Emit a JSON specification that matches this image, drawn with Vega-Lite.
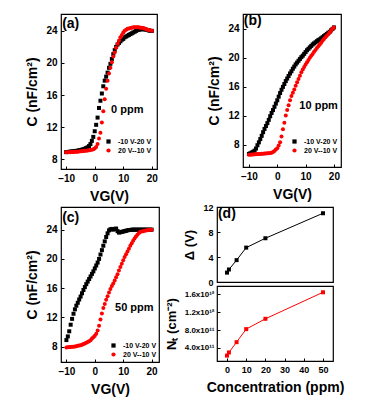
{
"$schema": "https://vega.github.io/schema/vega-lite/v6.json",
"background": "white",
"padding": {"left": 25, "top": 12, "right": 0, "bottom": 0},
"config": {
  "font": "Liberation Sans",
  "view": {"stroke": "black", "strokeWidth": 1.2},
  "axis": {"grid": false, "domain": false, "tickColor": "black", "tickSize": -3, "tickWidth": 1, "labelOverlap": false, "labelFlush": false, "tickCount": 20, "format": "d",
    "labelFont": "Liberation Sans", "labelFontWeight": "bold", "labelFontSize": 10, "labelColor": "black", "labelPadding": 7,
    "titleFont": "Liberation Sans", "titleFontWeight": "bold", "titleFontSize": 14, "titleColor": "black", "titlePadding": 6},
  "axisX": {"titlePadding": 6},
  "legend": {"labelFont": "Liberation Sans", "labelFontWeight": "bold", "labelFontSize": 7, "labelColor": "black", "symbolSize": 18, "rowPadding": 1, "padding": 0, "labelOffset": 6, "symbolStrokeWidth": 0}
},
"datasets": {
"a": [
{"V":-10,"C":8.9,"s":"f"},{"V":-9.5,"C":8.92,"s":"f"},{"V":-9,"C":8.94,"s":"f"},{"V":-8.5,"C":8.96,"s":"f"},{"V":-8,"C":8.98,"s":"f"},{"V":-7.5,"C":9.0,"s":"f"},{"V":-7,"C":9.02,"s":"f"},{"V":-6.5,"C":9.05,"s":"f"},{"V":-6,"C":9.08,"s":"f"},{"V":-5.5,"C":9.12,"s":"f"},
{"V":-5,"C":9.16,"s":"f"},{"V":-4.5,"C":9.2,"s":"f"},{"V":-4,"C":9.26,"s":"f"},{"V":-3.5,"C":9.32,"s":"f"},{"V":-3,"C":9.4,"s":"f"},{"V":-2.5,"C":9.5,"s":"f"},{"V":-2,"C":9.65,"s":"f"},{"V":-1.5,"C":9.9,"s":"f"},{"V":-1,"C":10.3,"s":"f"},{"V":-0.5,"C":10.8,"s":"f"},
{"V":0,"C":11.5,"s":"f"},{"V":0.5,"C":12.3,"s":"f"},{"V":1,"C":13.2,"s":"f"},{"V":1.5,"C":14.4,"s":"f"},{"V":2,"C":15.3,"s":"f"},{"V":2.5,"C":16.2,"s":"f"},{"V":3,"C":17.1,"s":"f"},{"V":3.5,"C":17.8,"s":"f"},{"V":4,"C":18.3,"s":"f"},{"V":4.5,"C":18.8,"s":"f"},
{"V":5,"C":19.4,"s":"f"},{"V":5.5,"C":19.9,"s":"f"},{"V":6,"C":20.5,"s":"f"},{"V":6.5,"C":21.1,"s":"f"},{"V":7,"C":21.6,"s":"f"},{"V":7.5,"C":22.0,"s":"f"},{"V":8,"C":22.3,"s":"f"},{"V":8.5,"C":22.5,"s":"f"},{"V":9,"C":22.7,"s":"f"},{"V":9.5,"C":22.9,"s":"f"},
{"V":10,"C":23.0,"s":"f"},{"V":10.5,"C":23.2,"s":"f"},{"V":11,"C":23.3,"s":"f"},{"V":11.5,"C":23.4,"s":"f"},{"V":12,"C":23.5,"s":"f"},{"V":12.5,"C":23.6,"s":"f"},{"V":13,"C":23.7,"s":"f"},{"V":13.5,"C":23.8,"s":"f"},{"V":14,"C":23.9,"s":"f"},{"V":14.5,"C":24.0,"s":"f"},
{"V":15,"C":24.1,"s":"f"},{"V":15.5,"C":24.15,"s":"f"},{"V":16,"C":24.2,"s":"f"},{"V":16.5,"C":24.2,"s":"f"},{"V":17,"C":24.2,"s":"f"},{"V":17.5,"C":24.2,"s":"f"},{"V":18,"C":24.15,"s":"f"},{"V":18.5,"C":24.1,"s":"f"},{"V":19,"C":24.05,"s":"f"},{"V":19.5,"C":24.0,"s":"f"},{"V":20,"C":24.0,"s":"f"},
{"V":-10,"C":8.9,"s":"r"},{"V":-9.5,"C":8.9,"s":"r"},{"V":-9,"C":8.9,"s":"r"},{"V":-8.5,"C":8.9,"s":"r"},{"V":-8,"C":8.92,"s":"r"},{"V":-7.5,"C":8.93,"s":"r"},{"V":-7,"C":8.94,"s":"r"},{"V":-6.5,"C":8.95,"s":"r"},{"V":-6,"C":8.96,"s":"r"},{"V":-5.5,"C":8.98,"s":"r"},
{"V":-5,"C":9.0,"s":"r"},{"V":-4.5,"C":9.02,"s":"r"},{"V":-4,"C":9.04,"s":"r"},{"V":-3.5,"C":9.06,"s":"r"},{"V":-3,"C":9.08,"s":"r"},{"V":-2.5,"C":9.1,"s":"r"},{"V":-2,"C":9.12,"s":"r"},{"V":-1.5,"C":9.16,"s":"r"},{"V":-1,"C":9.2,"s":"r"},{"V":-0.5,"C":9.26,"s":"r"},
{"V":0,"C":9.35,"s":"r"},{"V":0.5,"C":9.55,"s":"r"},{"V":1,"C":9.9,"s":"r"},{"V":1.5,"C":10.6,"s":"r"},{"V":2,"C":11.3,"s":"r"},{"V":2.5,"C":12.6,"s":"r"},{"V":3,"C":14.0,"s":"r"},{"V":3.5,"C":15.5,"s":"r"},{"V":4,"C":16.8,"s":"r"},{"V":4.5,"C":17.8,"s":"r"},
{"V":5,"C":18.7,"s":"r"},{"V":5.5,"C":19.4,"s":"r"},{"V":6,"C":20.1,"s":"r"},{"V":6.5,"C":20.8,"s":"r"},{"V":7,"C":21.3,"s":"r"},{"V":7.5,"C":21.9,"s":"r"},{"V":8,"C":22.4,"s":"r"},{"V":8.5,"C":22.8,"s":"r"},{"V":9,"C":23.2,"s":"r"},{"V":9.5,"C":23.5,"s":"r"},
{"V":10,"C":23.8,"s":"r"},{"V":10.5,"C":24.0,"s":"r"},{"V":11,"C":24.15,"s":"r"},{"V":11.5,"C":24.25,"s":"r"},{"V":12,"C":24.3,"s":"r"},{"V":12.5,"C":24.35,"s":"r"},{"V":13,"C":24.4,"s":"r"},{"V":13.5,"C":24.45,"s":"r"},{"V":14,"C":24.45,"s":"r"},{"V":14.5,"C":24.45,"s":"r"},
{"V":15,"C":24.45,"s":"r"},{"V":15.5,"C":24.45,"s":"r"},{"V":16,"C":24.4,"s":"r"},{"V":16.5,"C":24.4,"s":"r"},{"V":17,"C":24.35,"s":"r"},{"V":17.5,"C":24.3,"s":"r"},{"V":18,"C":24.2,"s":"r"},{"V":18.5,"C":24.15,"s":"r"},{"V":19,"C":24.1,"s":"r"},{"V":19.5,"C":24.05,"s":"r"},{"V":20,"C":24.0,"s":"r"}
],
"b": [
{"V":-10,"C":6.7,"s":"f"},{"V":-9.5,"C":6.8,"s":"f"},{"V":-9,"C":6.9,"s":"f"},{"V":-8.5,"C":7.0,"s":"f"},{"V":-8,"C":7.15,"s":"f"},{"V":-7.5,"C":7.45,"s":"f"},{"V":-7,"C":7.9,"s":"f"},{"V":-6.5,"C":8.3,"s":"f"},{"V":-6,"C":8.75,"s":"f"},{"V":-5.5,"C":9.2,"s":"f"},
{"V":-5,"C":9.7,"s":"f"},{"V":-4.5,"C":10.15,"s":"f"},{"V":-4,"C":10.55,"s":"f"},{"V":-3.5,"C":10.95,"s":"f"},{"V":-3,"C":11.4,"s":"f"},{"V":-2.5,"C":11.9,"s":"f"},{"V":-2,"C":12.35,"s":"f"},{"V":-1.5,"C":12.75,"s":"f"},{"V":-1,"C":13.2,"s":"f"},{"V":-0.5,"C":13.65,"s":"f"},
{"V":0,"C":14.1,"s":"f"},{"V":0.5,"C":14.6,"s":"f"},{"V":1,"C":15.1,"s":"f"},{"V":1.5,"C":15.55,"s":"f"},{"V":2,"C":15.95,"s":"f"},{"V":2.5,"C":16.35,"s":"f"},{"V":3,"C":16.75,"s":"f"},{"V":3.5,"C":17.1,"s":"f"},{"V":4,"C":17.45,"s":"f"},{"V":4.5,"C":17.8,"s":"f"},
{"V":5,"C":18.1,"s":"f"},{"V":5.5,"C":18.45,"s":"f"},{"V":6,"C":18.75,"s":"f"},{"V":6.5,"C":19.05,"s":"f"},{"V":7,"C":19.3,"s":"f"},{"V":7.5,"C":19.55,"s":"f"},{"V":8,"C":19.8,"s":"f"},{"V":8.5,"C":20.05,"s":"f"},{"V":9,"C":20.25,"s":"f"},{"V":9.5,"C":20.5,"s":"f"},
{"V":10,"C":20.75,"s":"f"},{"V":10.5,"C":21.0,"s":"f"},{"V":11,"C":21.2,"s":"f"},{"V":11.5,"C":21.4,"s":"f"},{"V":12,"C":21.6,"s":"f"},{"V":12.5,"C":21.8,"s":"f"},{"V":13,"C":21.95,"s":"f"},{"V":13.5,"C":22.1,"s":"f"},{"V":14,"C":22.25,"s":"f"},{"V":14.5,"C":22.4,"s":"f"},
{"V":15,"C":22.5,"s":"f"},{"V":15.5,"C":22.65,"s":"f"},{"V":16,"C":22.8,"s":"f"},{"V":16.5,"C":22.95,"s":"f"},{"V":17,"C":23.1,"s":"f"},{"V":17.5,"C":23.25,"s":"f"},{"V":18,"C":23.4,"s":"f"},{"V":18.5,"C":23.55,"s":"f"},{"V":19,"C":23.75,"s":"f"},{"V":19.5,"C":23.95,"s":"f"},{"V":20,"C":24.15,"s":"f"},
{"V":-10,"C":6.6,"s":"r"},{"V":-9.5,"C":6.6,"s":"r"},{"V":-9,"C":6.62,"s":"r"},{"V":-8.5,"C":6.63,"s":"r"},{"V":-8,"C":6.65,"s":"r"},{"V":-7.5,"C":6.66,"s":"r"},{"V":-7,"C":6.68,"s":"r"},{"V":-6.5,"C":6.7,"s":"r"},{"V":-6,"C":6.71,"s":"r"},{"V":-5.5,"C":6.72,"s":"r"},
{"V":-5,"C":6.73,"s":"r"},{"V":-4.5,"C":6.75,"s":"r"},{"V":-4,"C":6.77,"s":"r"},{"V":-3.5,"C":6.79,"s":"r"},{"V":-3,"C":6.81,"s":"r"},{"V":-2.5,"C":6.84,"s":"r"},{"V":-2,"C":6.88,"s":"r"},{"V":-1.5,"C":6.98,"s":"r"},{"V":-1,"C":7.12,"s":"r"},{"V":-0.5,"C":7.3,"s":"r"},
{"V":0,"C":7.5,"s":"r"},{"V":0.5,"C":7.85,"s":"r"},{"V":1,"C":8.3,"s":"r"},{"V":1.5,"C":9.1,"s":"r"},{"V":2,"C":10.1,"s":"r"},{"V":2.5,"C":11.0,"s":"r"},{"V":3,"C":12.0,"s":"r"},{"V":3.5,"C":12.75,"s":"r"},{"V":4,"C":13.4,"s":"r"},{"V":4.5,"C":14.1,"s":"r"},
{"V":5,"C":14.7,"s":"r"},{"V":5.5,"C":15.15,"s":"r"},{"V":6,"C":15.6,"s":"r"},{"V":6.5,"C":16.1,"s":"r"},{"V":7,"C":16.6,"s":"r"},{"V":7.5,"C":17.05,"s":"r"},{"V":8,"C":17.5,"s":"r"},{"V":8.5,"C":17.95,"s":"r"},{"V":9,"C":18.35,"s":"r"},{"V":9.5,"C":18.7,"s":"r"},
{"V":10,"C":19.05,"s":"r"},{"V":10.5,"C":19.35,"s":"r"},{"V":11,"C":19.65,"s":"r"},{"V":11.5,"C":19.95,"s":"r"},{"V":12,"C":20.25,"s":"r"},{"V":12.5,"C":20.5,"s":"r"},{"V":13,"C":20.8,"s":"r"},{"V":13.5,"C":21.05,"s":"r"},{"V":14,"C":21.3,"s":"r"},{"V":14.5,"C":21.55,"s":"r"},
{"V":15,"C":21.8,"s":"r"},{"V":15.5,"C":22.05,"s":"r"},{"V":16,"C":22.3,"s":"r"},{"V":16.5,"C":22.55,"s":"r"},{"V":17,"C":22.8,"s":"r"},{"V":17.5,"C":23.0,"s":"r"},{"V":18,"C":23.2,"s":"r"},{"V":18.5,"C":23.45,"s":"r"},{"V":19,"C":23.7,"s":"r"},{"V":19.5,"C":23.95,"s":"r"},{"V":20,"C":24.15,"s":"r"}
],
"c": [
{"V":-10,"C":8.9,"s":"f"},{"V":-9.5,"C":9.4,"s":"f"},{"V":-9,"C":10.1,"s":"f"},{"V":-8.5,"C":11.0,"s":"f"},{"V":-8,"C":11.8,"s":"f"},{"V":-7.5,"C":12.5,"s":"f"},{"V":-7,"C":13.1,"s":"f"},{"V":-6.5,"C":13.6,"s":"f"},{"V":-6,"C":14.0,"s":"f"},{"V":-5.5,"C":14.45,"s":"f"},
{"V":-5,"C":14.85,"s":"f"},{"V":-4.5,"C":15.3,"s":"f"},{"V":-4,"C":15.75,"s":"f"},{"V":-3.5,"C":16.15,"s":"f"},{"V":-3,"C":16.55,"s":"f"},{"V":-2.5,"C":16.9,"s":"f"},{"V":-2,"C":17.25,"s":"f"},{"V":-1.5,"C":17.6,"s":"f"},{"V":-1,"C":17.95,"s":"f"},{"V":-0.5,"C":18.3,"s":"f"},
{"V":0,"C":18.7,"s":"f"},{"V":0.5,"C":19.1,"s":"f"},{"V":1,"C":19.5,"s":"f"},{"V":1.5,"C":20.0,"s":"f"},{"V":2,"C":20.6,"s":"f"},{"V":2.5,"C":21.2,"s":"f"},{"V":3,"C":21.8,"s":"f"},{"V":3.5,"C":22.4,"s":"f"},{"V":4,"C":23.0,"s":"f"},{"V":4.5,"C":23.5,"s":"f"},
{"V":5,"C":23.9,"s":"f"},{"V":5.5,"C":24.05,"s":"f"},{"V":6,"C":24.1,"s":"f"},{"V":6.5,"C":24.0,"s":"f"},{"V":7,"C":24.1,"s":"f"},{"V":7.5,"C":24.15,"s":"f"},{"V":8,"C":23.8,"s":"f"},{"V":8.5,"C":23.6,"s":"f"},{"V":9,"C":23.65,"s":"f"},{"V":9.5,"C":23.7,"s":"f"},
{"V":10,"C":23.75,"s":"f"},{"V":10.5,"C":23.8,"s":"f"},{"V":11,"C":23.85,"s":"f"},{"V":11.5,"C":23.9,"s":"f"},{"V":12,"C":23.95,"s":"f"},{"V":12.5,"C":23.95,"s":"f"},{"V":13,"C":24.0,"s":"f"},{"V":13.5,"C":24.0,"s":"f"},{"V":14,"C":24.0,"s":"f"},{"V":14.5,"C":24.0,"s":"f"},
{"V":15,"C":24.0,"s":"f"},{"V":15.5,"C":24.0,"s":"f"},{"V":16,"C":24.0,"s":"f"},{"V":16.5,"C":24.0,"s":"f"},{"V":17,"C":24.0,"s":"f"},{"V":17.5,"C":24.0,"s":"f"},{"V":18,"C":24.0,"s":"f"},{"V":18.5,"C":24.0,"s":"f"},{"V":19,"C":24.0,"s":"f"},{"V":19.5,"C":24.0,"s":"f"},{"V":20,"C":24.0,"s":"f"},
{"V":-10,"C":7.9,"s":"r"},{"V":-9.5,"C":7.92,"s":"r"},{"V":-9,"C":7.94,"s":"r"},{"V":-8.5,"C":7.96,"s":"r"},{"V":-8,"C":7.98,"s":"r"},{"V":-7.5,"C":8.0,"s":"r"},{"V":-7,"C":8.03,"s":"r"},{"V":-6.5,"C":8.07,"s":"r"},{"V":-6,"C":8.11,"s":"r"},{"V":-5.5,"C":8.15,"s":"r"},
{"V":-5,"C":8.2,"s":"r"},{"V":-4.5,"C":8.27,"s":"r"},{"V":-4,"C":8.35,"s":"r"},{"V":-3.5,"C":8.44,"s":"r"},{"V":-3,"C":8.53,"s":"r"},{"V":-2.5,"C":8.62,"s":"r"},{"V":-2,"C":8.74,"s":"r"},{"V":-1.5,"C":8.88,"s":"r"},{"V":-1,"C":9.1,"s":"r"},{"V":-0.5,"C":9.3,"s":"r"},
{"V":0,"C":9.5,"s":"r"},{"V":0.5,"C":9.75,"s":"r"},{"V":1,"C":10.2,"s":"r"},{"V":1.5,"C":10.85,"s":"r"},{"V":2,"C":11.7,"s":"r"},{"V":2.5,"C":12.55,"s":"r"},{"V":3,"C":13.3,"s":"r"},{"V":3.5,"C":13.85,"s":"r"},{"V":4,"C":14.4,"s":"r"},{"V":4.5,"C":14.9,"s":"r"},
{"V":5,"C":15.4,"s":"r"},{"V":5.5,"C":15.9,"s":"r"},{"V":6,"C":16.3,"s":"r"},{"V":6.5,"C":16.65,"s":"r"},{"V":7,"C":17.05,"s":"r"},{"V":7.5,"C":17.5,"s":"r"},{"V":8,"C":17.9,"s":"r"},{"V":8.5,"C":18.4,"s":"r"},{"V":9,"C":18.9,"s":"r"},{"V":9.5,"C":19.35,"s":"r"},
{"V":10,"C":19.8,"s":"r"},{"V":10.5,"C":20.25,"s":"r"},{"V":11,"C":20.65,"s":"r"},{"V":11.5,"C":21.0,"s":"r"},{"V":12,"C":21.4,"s":"r"},{"V":12.5,"C":21.8,"s":"r"},{"V":13,"C":22.15,"s":"r"},{"V":13.5,"C":22.5,"s":"r"},{"V":14,"C":22.8,"s":"r"},{"V":14.5,"C":23.05,"s":"r"},
{"V":15,"C":23.3,"s":"r"},{"V":15.5,"C":23.5,"s":"r"},{"V":16,"C":23.7,"s":"r"},{"V":16.5,"C":23.75,"s":"r"},{"V":17,"C":23.8,"s":"r"},{"V":17.5,"C":23.85,"s":"r"},{"V":18,"C":23.9,"s":"r"},{"V":18.5,"C":23.93,"s":"r"},{"V":19,"C":23.96,"s":"r"},{"V":19.5,"C":23.98,"s":"r"},{"V":20,"C":24.0,"s":"r"}
],
"d": [
{"x":0,"dv":1.5,"nt":2.3e11},{"x":1,"dv":2.0,"nt":3.0e11},{"x":5,"dv":3.5,"nt":5.3e11},{"x":10,"dv":5.5,"nt":8.2e11},{"x":20,"dv":7.0,"nt":1.05e12},{"x":50,"dv":11.0,"nt":1.64e12}
]
},
"spacing": -2,
"resolve": {"scale": {"color": "independent", "shape": "independent"}},
"vconcat": [
 {"hconcat": [
  {"width": 96, "height": 155,
   "layer": [
    {"data": {"name": "a"}, "mark": {"type": "point", "filled": true, "size": 16, "opacity": 1},
     "encoding": {
      "x": {"field": "V", "type": "quantitative", "scale": {"domain": [-11.8, 21.8], "nice": false, "zero": false}, "axis": {"values": [-10, 0, 10, 20], "title": "VG(V)"}},
      "y": {"field": "C", "type": "quantitative", "scale": {"domain": [6.8, 26.1], "nice": false, "zero": false}, "axis": {"values": [8, 12, 16, 20, 24], "title": "C (nF/cm²)"}},
      "color": {"field": "s", "type": "nominal", "scale": {"domain": ["f", "r"], "range": ["#000000", "#ff0000"]}, "legend": {"title": null, "orient": "none", "legendX": 44, "legendY": 124, "labelExpr": "datum.label == 'f' ? '-10 V-20 V' : '20 V--10 V'"}},
      "shape": {"field": "s", "type": "nominal", "scale": {"domain": ["f", "r"], "range": ["square", "circle"]}, "legend": {"title": null, "orient": "none", "legendX": 44, "legendY": 124, "labelExpr": "datum.label == 'f' ? '-10 V-20 V' : '20 V--10 V'"}}
     }},
    {"data": {"values": [{"V": -11.4, "C": 24.9, "t": "(a)"}]}, "mark": {"type": "text", "align": "left", "baseline": "middle", "fontSize": 14, "fontWeight": "bold", "color": "black"},
     "encoding": {"x": {"field": "V", "type": "quantitative"}, "y": {"field": "C", "type": "quantitative"}, "text": {"field": "t"}}},
    {"data": {"values": [{"V": 11.4, "C": 14.1, "t": "0 ppm"}]}, "mark": {"type": "text", "align": "center", "baseline": "middle", "fontSize": 11, "fontWeight": "bold", "color": "black"},
     "encoding": {"x": {"field": "V", "type": "quantitative"}, "y": {"field": "C", "type": "quantitative"}, "text": {"field": "t"}}}
   ]},
  {"width": 98, "height": 153,
   "layer": [
    {"data": {"name": "b"}, "mark": {"type": "point", "filled": true, "size": 16, "opacity": 1},
     "encoding": {
      "x": {"field": "V", "type": "quantitative", "scale": {"domain": [-12.1, 22.5], "nice": false, "zero": false}, "axis": {"values": [-10, 0, 10, 20], "title": "VG(V)"}},
      "y": {"field": "C", "type": "quantitative", "scale": {"domain": [4.9, 26.0], "nice": false, "zero": false}, "axis": {"values": [8, 12, 16, 20, 24], "title": "C (nF/cm²)"}},
      "color": {"field": "s", "type": "nominal", "scale": {"domain": ["f", "r"], "range": ["#000000", "#ff0000"]}, "legend": {"title": null, "orient": "none", "legendX": 48, "legendY": 124, "labelExpr": "datum.label == 'f' ? '-10 V-20 V' : '20 V--10 V'"}},
      "shape": {"field": "s", "type": "nominal", "scale": {"domain": ["f", "r"], "range": ["square", "circle"]}, "legend": {"title": null, "orient": "none", "legendX": 48, "legendY": 124, "labelExpr": "datum.label == 'f' ? '-10 V-20 V' : '20 V--10 V'"}}
     }},
    {"data": {"values": [{"V": -11.8, "C": 25.1, "t": "(b)"}]}, "mark": {"type": "text", "align": "left", "baseline": "middle", "fontSize": 14, "fontWeight": "bold", "color": "black"},
     "encoding": {"x": {"field": "V", "type": "quantitative"}, "y": {"field": "C", "type": "quantitative"}, "text": {"field": "t"}}},
    {"data": {"values": [{"V": 14.6, "C": 13.3, "t": "10 ppm"}]}, "mark": {"type": "text", "align": "center", "baseline": "middle", "fontSize": 11, "fontWeight": "bold", "color": "black"},
     "encoding": {"x": {"field": "V", "type": "quantitative"}, "y": {"field": "C", "type": "quantitative"}, "text": {"field": "t"}}}
   ]}
 ], "spacing": 48, "resolve": {"scale": {"color": "independent", "shape": "independent"}}},
 {"hconcat": [
  {"width": 98, "height": 155,
   "layer": [
    {"data": {"name": "c"}, "mark": {"type": "point", "filled": true, "size": 16, "opacity": 1},
     "encoding": {
      "x": {"field": "V", "type": "quantitative", "scale": {"domain": [-11.9, 22.6], "nice": false, "zero": false}, "axis": {"values": [-10, 0, 10, 20], "title": "VG(V)"}},
      "y": {"field": "C", "type": "quantitative", "scale": {"domain": [5.9, 27.1], "nice": false, "zero": false}, "axis": {"values": [8, 12, 16, 20, 24], "title": "C (nF/cm²)"}},
      "color": {"field": "s", "type": "nominal", "scale": {"domain": ["f", "r"], "range": ["#000000", "#ff0000"]}, "legend": {"title": null, "orient": "none", "legendX": 49, "legendY": 135, "labelExpr": "datum.label == 'f' ? '-10 V-20 V' : '20 V--10 V'"}},
      "shape": {"field": "s", "type": "nominal", "scale": {"domain": ["f", "r"], "range": ["square", "circle"]}, "legend": {"title": null, "orient": "none", "legendX": 49, "legendY": 135, "labelExpr": "datum.label == 'f' ? '-10 V-20 V' : '20 V--10 V'"}}
     }},
    {"data": {"values": [{"V": -11.5, "C": 25.6, "t": "(c)"}]}, "mark": {"type": "text", "align": "left", "baseline": "middle", "fontSize": 14, "fontWeight": "bold", "color": "black"},
     "encoding": {"x": {"field": "V", "type": "quantitative"}, "y": {"field": "C", "type": "quantitative"}, "text": {"field": "t"}}},
    {"data": {"values": [{"V": 13.9, "C": 13.3, "t": "50 ppm"}]}, "mark": {"type": "text", "align": "center", "baseline": "middle", "fontSize": 11, "fontWeight": "bold", "color": "black"},
     "encoding": {"x": {"field": "V", "type": "quantitative"}, "y": {"field": "C", "type": "quantitative"}, "text": {"field": "t"}}}
   ]},
  {"vconcat": [
   {"width": 116, "height": 75,
    "layer": [
     {"data": {"name": "d"}, "mark": {"type": "line", "color": "black", "strokeWidth": 1},
      "encoding": {
       "x": {"field": "x", "type": "quantitative", "scale": {"domain": [-5.2, 55.2], "nice": false, "zero": false}, "axis": {"labels": false, "ticks": false, "title": null}},
       "y": {"field": "dv", "type": "quantitative", "scale": {"domain": [0, 12], "nice": false}, "axis": {"values": [0, 4, 8, 12], "format": "d", "title": "Δ (V)", "labelFontSize": 9, "titleFontSize": 13}}
      }},
     {"data": {"name": "d"}, "mark": {"type": "square", "color": "black", "size": 16, "opacity": 1},
      "encoding": {"x": {"field": "x", "type": "quantitative"}, "y": {"field": "dv", "type": "quantitative"}}},
     {"data": {"values": [{"x": -4.7, "dv": 10.9, "t": "(d)"}]}, "mark": {"type": "text", "align": "left", "baseline": "middle", "fontSize": 14, "fontWeight": "bold", "color": "black"},
      "encoding": {"x": {"field": "x", "type": "quantitative"}, "y": {"field": "dv", "type": "quantitative"}, "text": {"field": "t"}}}
    ]},
   {"width": 116, "height": 75,
    "layer": [
     {"data": {"name": "d"}, "mark": {"type": "line", "color": "#ff0000", "strokeWidth": 1},
      "encoding": {
       "x": {"field": "x", "type": "quantitative", "scale": {"domain": [-5.2, 55.2], "nice": false, "zero": false}, "axis": {"values": [0, 10, 20, 30, 40, 50], "format": "d", "title": "Concentration (ppm)", "labelFontSize": 9}},
       "y": {"field": "nt", "type": "quantitative", "scale": {"domain": [1.1e11, 1.78e12], "nice": false, "zero": false}, "axis": {"values": [4e11, 8e11, 1.2e12, 1.6e12], "labelExpr": "datum.value < 1e12 ? format(datum.value/1e11, '.1f') + 'x10¹¹' : format(datum.value/1e12, '.1f') + 'x10¹²'", "labelFontSize": 8, "labelPadding": 6, "title": "Nₜ (cm⁻²)", "titleFontSize": 13}}
      }},
     {"data": {"name": "d"}, "mark": {"type": "square", "color": "#ff0000", "size": 16, "opacity": 1},
      "encoding": {"x": {"field": "x", "type": "quantitative"}, "y": {"field": "nt", "type": "quantitative"}}}
    ]}
  ], "spacing": 4, "bounds": "flush"}
 ], "spacing": 4, "resolve": {"scale": {"color": "independent", "shape": "independent"}}}
]
}
